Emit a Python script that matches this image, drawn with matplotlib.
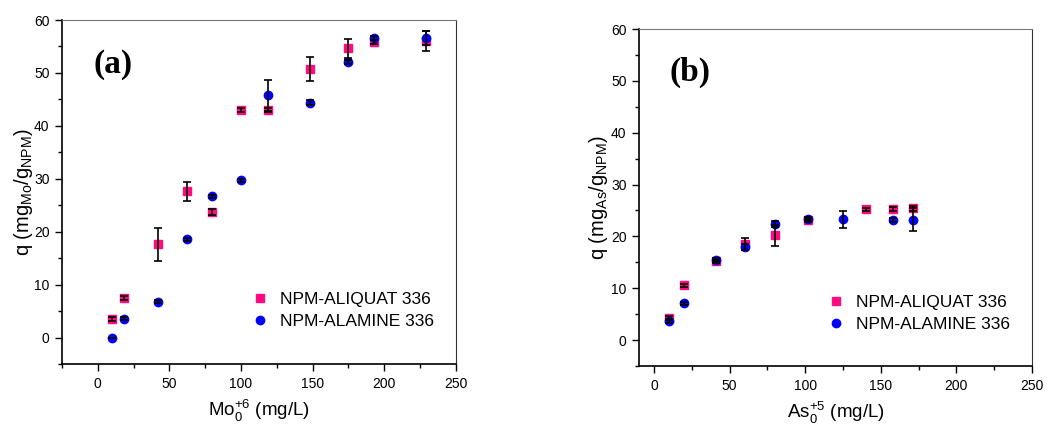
import matplotlib
matplotlib.use("Agg")
import matplotlib.pyplot as plt
from matplotlib.ticker import MultipleLocator

plt.rcParams['font.family'] = ['Liberation Sans', 'DejaVu Sans']
plt.rcParams['mathtext.fontset'] = 'custom'
plt.rcParams['mathtext.rm'] = 'Liberation Sans'

# Panel (a): Mo(VI)
mo_x_aliq = [10, 18, 42, 62, 80, 100, 119, 148, 175, 193, 229]
mo_q_aliq = [3.5, 7.5, 17.6, 27.6, 23.7, 43.0, 43.0, 50.7, 54.7, 55.8, 56.0]
mo_e_aliq = [0.4, 0.4, 3.1, 1.85, 0.5, 0.3, 0.3, 2.3, 1.8, 0.4, 1.85]
mo_x_alam = [10, 18, 42, 62, 80, 100, 119, 148, 175, 193, 229]
mo_q_alam = [0.0, 3.6, 6.8, 18.6, 26.7, 29.7, 45.8, 44.4, 52.1, 56.6, 56.6]
mo_e_alam = [0.0, 0.3, 0.3, 0.3, 0.3, 0.3, 2.9, 0.5, 0.4, 0.3, 1.3]

# Panel (b): As(V)
as_x_aliq = [10, 20, 41, 60, 80, 102, 140, 158, 171]
as_q_aliq = [4.2, 10.6, 15.2, 18.5, 20.2, 23.1, 25.2, 25.3, 25.4]
as_e_aliq = [0.4, 0.3, 0.3, 1.2, 2.0, 0.3, 0.3, 0.4, 0.5]
as_x_alam = [10, 20, 41, 60, 80, 102, 125, 158, 171]
as_q_alam = [3.7, 7.1, 15.5, 17.9, 22.4, 23.3, 23.3, 23.1, 23.2]
as_e_alam = [0.4, 0.3, 0.4, 0.6, 0.5, 0.4, 1.6, 0.4, 2.2]

series_labels = ['NPM-ALIQUAT 336', 'NPM-ALAMINE 336']
pink = '#FF0A7F'
blue = '#0000FF'

fig = plt.figure(figsize=(10.52, 4.26), dpi=100)
ax1 = fig.add_axes([0.0589, 0.1455, 0.3745, 0.8075])
ax2 = fig.add_axes([0.6074, 0.1408, 0.3736, 0.791])


def draw(ax, xa, qa, ea, xb, qb, eb, xlim, xlabel, ylabel, tag, ylpad):
    ax.plot(xa, qa, 's', color=pink, ms=5.5, mec=pink, label=series_labels[0], zorder=3)
    ax.plot(xb, qb, 'o', color=blue, ms=6, mec=blue, label=series_labels[1], zorder=3)
    ax.errorbar(xa, qa, yerr=ea, fmt='none', ecolor='black', elinewidth=1.2,
                capsize=3, capthick=1.2, zorder=4)
    ax.errorbar(xb, qb, yerr=eb, fmt='none', ecolor='black', elinewidth=1.2,
                capsize=3, capthick=1.2, zorder=4)
    ax.set_xlim(*xlim)
    ax.set_ylim(-5, 60)
    ax.xaxis.set_major_locator(MultipleLocator(50))
    ax.xaxis.set_minor_locator(MultipleLocator(25))
    ax.yaxis.set_major_locator(MultipleLocator(10))
    ax.yaxis.set_minor_locator(MultipleLocator(5))
    ax.tick_params(which='major', direction='out', length=5, width=1, labelsize=10,
                   top=False, right=False, pad=4)
    ax.tick_params(which='minor', direction='out', length=3, width=1,
                   top=False, right=False)
    for s in ['left', 'bottom']:
        ax.spines[s].set_color('black')
        ax.spines[s].set_linewidth(1.2)
    ax.spines['top'].set_color('#777777')
    ax.spines['right'].set_color('#333333')
    ax.set_xlabel(xlabel, fontsize=13.5, labelpad=5)
    ax.set_ylabel(ylabel, fontsize=14.5, labelpad=ylpad)
    ax.text(0.13, 0.87, tag, transform=ax.transAxes, ha='center', va='center',
            fontsize=24, fontweight='bold', family='Liberation Serif')
    ax.legend(loc='lower right', bbox_to_anchor=(0.985, 0.055), frameon=False,
              fontsize=12.5, handletextpad=0.6, labelspacing=0.4, handlelength=1.2)


draw(ax1, mo_x_aliq, mo_q_aliq, mo_e_aliq, mo_x_alam, mo_q_alam, mo_e_alam,
     (-25, 250), r'Mo$_{\mathregular{0}}^{\mathregular{+6}}$ (mg/L)',
     r'q (mg$_{\mathregular{Mo}}$/g$_{\mathregular{NPM}}$)', '(a)', -1)
draw(ax2, as_x_aliq, as_q_aliq, as_e_aliq, as_x_alam, as_q_alam, as_e_alam,
     (-10, 250), r'As$_{\mathregular{0}}^{\mathregular{+5}}$ (mg/L)',
     r'q (mg$_{\mathregular{As}}$/g$_{\mathregular{NPM}}$)', '(b)', 0.5)

fig.savefig('out.png', dpi=100)
